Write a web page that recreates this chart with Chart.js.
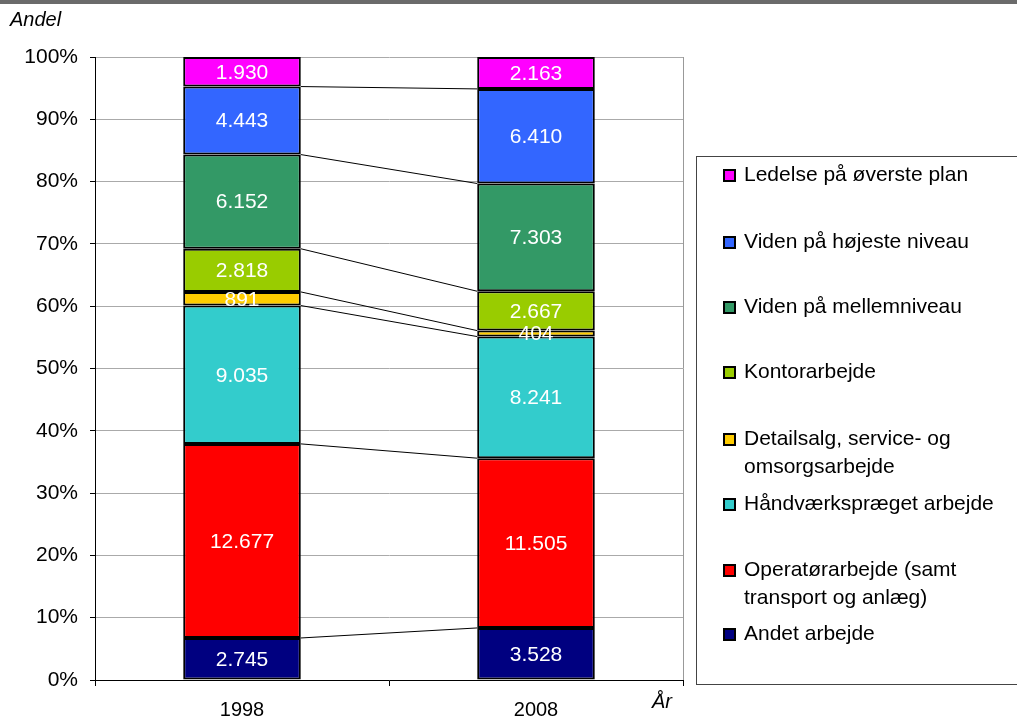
<!DOCTYPE html>
<html>
<head>
<meta charset="utf-8">
<script src="https://cdn.jsdelivr.net/npm/chart.js@4"></script>
<style>
  body { margin: 0; background: #fff; font-family: Arial, "Liberation Sans", sans-serif; }
  #wrap { position: relative; width: 1017px; height: 722px; overflow: hidden; }
  #topbar { position: absolute; left: 0; top: 0; width: 1017px; height: 4px; background: #6b6b6b; }
  #c { position: absolute; left: 0; top: 0; }
  .ttl { position: absolute; font-style: italic; font-size: 20px; color: #000; }
  #legend { position: absolute; left: 696px; top: 156px; width: 340px; height: 529px; border: 1px solid #444; box-sizing: border-box; }
  .li { position: absolute; left: 26px; font-size: 21px; line-height: 28px; color: #000; }
  .li span.box { position: absolute; left: 0; top: 9px; width: 9px; height: 9px; border: 2px solid #000; }
  .li span.txt { display: block; margin-left: 21px; }
</style>
</head>
<body>
<div id="wrap">
  <div id="topbar"></div>
  <canvas id="c" width="1017" height="722"></canvas>
  <div class="ttl" style="left:10px; top:8px;">Andel</div>
  <div class="ttl" style="left:652px; top:690px;">År</div>
  <div id="legend"></div>
</div>
<script>
// categories and series (bottom to top of the stack)
const years = ['1998', '2008'];
const seriesNames = [
  'Andet arbejde',
  ['Operatørarbejde (samt', 'transport og anlæg)'],
  'Håndværkspræget arbejde',
  ['Detailsalg, service- og', 'omsorgsarbejde'],
  'Kontorarbejde',
  'Viden på mellemniveau',
  'Viden på højeste niveau',
  'Ledelse på øverste plan'
];
const seriesColors = ['#000080', '#FF0000', '#33CCCC', '#FFCC00', '#99CC00', '#339966', '#3366FF', '#FF00FF'];
const andet = [2745, 3528];
const operatoer = [12677, 11505];
const haandvaerk = [9035, 8241];
const detailsalg = [891, 404];
const kontor = [2818, 2667];
const videnMellem = [6152, 7303];
const videnHoej = [4443, 6410];
const ledelse = [1930, 2163];
const yTicks = [0, 10, 20, 30, 40, 50, 60, 70, 80, 90, 100];

const counts = [andet, operatoer, haandvaerk, detailsalg, kontor, videnMellem, videnHoej, ledelse];
const totals = years.map((y, i) => counts.reduce((s, arr) => s + arr[i], 0));

const fmt = n => String(n).replace(/\B(?=(\d{3})+(?!\d))/g, '.');

const datasets = counts.map((arr, k) => ({
  label: Array.isArray(seriesNames[k]) ? seriesNames[k].join(' ') : seriesNames[k],
  data: arr.map((v, i) => v / totals[i] * 100),
  raw: arr,
  backgroundColor: seriesColors[k],
  borderColor: '#000',
  borderWidth: 2,
  borderSkipped: false,
  barPercentage: 0.4,
  categoryPercentage: 1
}));

// legend (top to bottom as in the picture)
const legendTops = [3, 70, 135, 200, 267, 332, 398, 462];
const legend = document.getElementById('legend');
for (let k = seriesNames.length - 1, j = 0; k >= 0; k--, j++) {
  const d = document.createElement('div');
  d.className = 'li';
  d.style.top = legendTops[j] + 'px';
  const name = Array.isArray(seriesNames[k]) ? seriesNames[k].join('<br>') : seriesNames[k];
  d.innerHTML = '<span class="box" style="background:' + seriesColors[k] + '"></span><span class="txt">' + name + '</span>';
  legend.appendChild(d);
}

const overlay = {
  id: 'overlay',
  afterDatasetsDraw(chart) {
    const ctx = chart.ctx;
    const a = chart.chartArea;
    // right border of plot area
    ctx.save();
    ctx.strokeStyle = '#999';
    ctx.lineWidth = 1;
    ctx.beginPath();
    ctx.moveTo(a.right + 0.5, a.top);
    ctx.lineTo(a.right + 0.5, a.bottom);
    ctx.stroke();
    // series lines between stack tops
    ctx.strokeStyle = '#000';
    ctx.lineWidth = 1;
    for (let k = 0; k < chart.data.datasets.length - 1; k++) {
      const m0 = chart.getDatasetMeta(k).data[0];
      const m1 = chart.getDatasetMeta(k).data[1];
      ctx.beginPath();
      ctx.moveTo(m0.x + m0.width / 2, m0.y);
      ctx.lineTo(m1.x - m1.width / 2, m1.y);
      ctx.stroke();
    }
    // value labels
    ctx.fillStyle = '#fff';
    ctx.font = '21px Arial, "Liberation Sans", sans-serif';
    ctx.textAlign = 'center';
    ctx.textBaseline = 'middle';
    chart.data.datasets.forEach((ds, k) => {
      chart.getDatasetMeta(k).data.forEach((bar, i) => {
        ctx.fillText(fmt(ds.raw[i]), bar.x, (bar.y + bar.base) / 2 + 1);
      });
    });
    ctx.restore();
  }
};

new Chart(document.getElementById('c'), {
  type: 'bar',
  data: { labels: years, datasets: datasets },
  options: {
    responsive: false,
    animation: false,
    layout: { padding: { left: 0, top: 57, right: 334, bottom: 0 } },
    plugins: { legend: { display: false }, tooltip: { enabled: false } },
    scales: {
      x: {
        stacked: true,
        grid: { drawOnChartArea: false, drawTicks: true, tickLength: 6, color: '#000', offset: true },
        border: { color: '#000', width: 1 },
        ticks: { color: '#000', font: { size: 20, family: 'Arial' }, padding: 12 },
        afterFit(s) { s.height = 42; }
      },
      y: {
        stacked: true,
        min: 0,
        max: 100,
        afterBuildTicks(s) { s.ticks = yTicks.map(v => ({ value: v })); },
        grid: { color: '#aaa', tickColor: '#000', tickLength: 5 },
        border: { color: '#000', width: 1 },
        ticks: { color: '#000', font: { size: 21, family: 'Arial' }, padding: 12, callback: v => v + '%' },
        afterFit(s) { s.width = 95; }
      }
    }
  },
  plugins: [overlay]
});
</script>
</body>
</html>
